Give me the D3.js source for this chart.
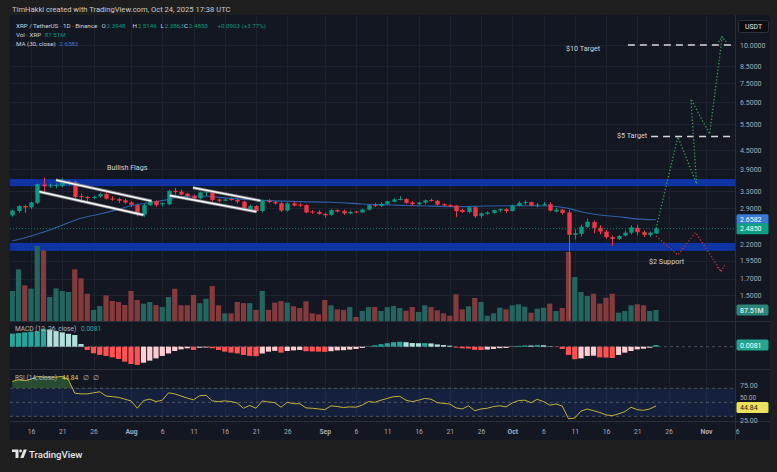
<!DOCTYPE html>
<html><head><meta charset="utf-8">
<script src="https://cdn.jsdelivr.net/npm/d3@7"></script>
<style>
html,body{margin:0;padding:0;background:#1e1e1e;}
svg{display:block;font-family:Roboto,"Noto Sans",sans-serif;}
</style></head><body>
<svg id="c" width="777" height="472"></svg>
<script>
// ---------------- DATA ----------------
const dates = [
"2025-07-13","2025-07-14","2025-07-15","2025-07-16","2025-07-17","2025-07-18","2025-07-19","2025-07-20","2025-07-21","2025-07-22","2025-07-23","2025-07-24","2025-07-25","2025-07-26","2025-07-27","2025-07-28","2025-07-29","2025-07-30","2025-07-31",
"2025-08-01","2025-08-02","2025-08-03","2025-08-04","2025-08-05","2025-08-06","2025-08-07","2025-08-08","2025-08-09","2025-08-10","2025-08-11","2025-08-12","2025-08-13","2025-08-14","2025-08-15","2025-08-16","2025-08-17","2025-08-18","2025-08-19","2025-08-20","2025-08-21","2025-08-22","2025-08-23","2025-08-24","2025-08-25","2025-08-26","2025-08-27","2025-08-28","2025-08-29","2025-08-30","2025-08-31",
"2025-09-01","2025-09-02","2025-09-03","2025-09-04","2025-09-05","2025-09-06","2025-09-07","2025-09-08","2025-09-09","2025-09-10","2025-09-11","2025-09-12","2025-09-13","2025-09-14","2025-09-15","2025-09-16","2025-09-17","2025-09-18","2025-09-19","2025-09-20","2025-09-21","2025-09-22","2025-09-23","2025-09-24","2025-09-25","2025-09-26","2025-09-27","2025-09-28","2025-09-29","2025-09-30",
"2025-10-01","2025-10-02","2025-10-03","2025-10-04","2025-10-05","2025-10-06","2025-10-07","2025-10-08","2025-10-09","2025-10-10","2025-10-11","2025-10-12","2025-10-13","2025-10-14","2025-10-15","2025-10-16","2025-10-17","2025-10-18","2025-10-19","2025-10-20","2025-10-21","2025-10-22","2025-10-23","2025-10-24"];

const open = [
2.75,2.84,2.95,2.92,3.02,3.47,3.43,3.45,3.43,3.50,3.53,3.18,3.16,3.14,3.17,3.23,3.12,3.11,3.08,
3.03,2.97,2.77,2.97,3.06,2.99,2.99,3.31,3.29,3.24,3.18,3.13,3.27,3.28,3.10,3.07,3.11,3.09,3.05,2.86,2.95,2.84,3.07,3.04,3.01,2.85,3.01,2.98,2.97,2.83,2.82,
2.78,2.76,2.86,2.84,2.79,2.83,2.81,2.87,2.97,2.95,3.00,3.05,3.10,3.11,3.03,2.99,3.03,3.09,3.07,2.99,2.97,2.96,2.86,2.82,2.92,2.74,2.78,2.80,2.86,2.88,
2.84,2.95,3.02,3.04,2.97,2.98,2.99,2.83,2.87,2.81,2.37,2.39,2.52,2.61,2.50,2.43,2.33,2.30,2.36,2.41,2.50,2.42,2.37,2.3948];
const high = [
2.87,2.97,2.98,3.05,3.50,3.66,3.50,3.50,3.64,3.58,3.57,3.24,3.18,3.19,3.26,3.31,3.18,3.14,3.12,
3.06,3.00,3.00,3.10,3.08,3.03,3.34,3.38,3.34,3.26,3.22,3.29,3.34,3.32,3.12,3.12,3.14,3.12,3.07,2.98,2.97,3.10,3.11,3.07,3.04,3.03,3.05,3.02,2.99,2.86,2.86,
2.80,2.88,2.88,2.87,2.85,2.84,2.89,2.99,3.02,3.03,3.07,3.13,3.18,3.13,3.06,3.05,3.10,3.12,3.09,3.01,2.99,2.97,2.89,2.95,2.93,2.81,2.83,2.87,2.90,2.90,
2.98,3.06,3.08,3.05,3.02,3.04,3.04,2.91,2.88,2.86,2.47,2.56,2.68,2.64,2.55,2.46,2.36,2.37,2.45,2.55,2.56,2.45,2.43,2.5146];
const low = [
2.72,2.80,2.80,2.89,2.99,3.28,3.39,3.37,3.40,3.44,3.12,3.02,3.04,3.11,3.14,3.10,3.07,3.02,3.00,
2.93,2.73,2.72,2.95,2.93,2.94,2.97,3.22,3.20,3.14,3.09,3.10,3.18,3.05,3.03,3.06,3.07,3.01,2.84,2.84,2.82,2.81,3.01,2.98,2.82,2.83,2.94,2.93,2.79,2.78,2.76,
2.70,2.74,2.81,2.76,2.77,2.79,2.80,2.85,2.93,2.93,2.98,3.03,3.08,3.00,2.96,2.97,2.99,3.05,2.96,2.95,2.93,2.71,2.80,2.79,2.70,2.69,2.76,2.78,2.82,2.80,
2.83,2.94,2.98,2.94,2.92,2.95,2.83,2.81,2.76,1.25,2.29,2.34,2.50,2.40,2.38,2.30,2.18,2.28,2.34,2.38,2.36,2.33,2.34,2.3863];
const close = [
2.85,2.95,2.92,3.03,3.48,3.43,3.45,3.46,3.53,3.54,3.16,3.16,3.13,3.16,3.23,3.12,3.10,3.07,3.03,
2.98,2.77,2.97,3.06,2.97,3.02,3.31,3.28,3.22,3.18,3.12,3.27,3.29,3.09,3.07,3.10,3.09,3.05,2.86,2.95,2.84,3.07,3.04,3.01,2.85,3.01,2.96,2.97,2.81,2.81,2.78,
2.75,2.86,2.83,2.79,2.82,2.81,2.87,2.97,2.95,3.00,3.06,3.10,3.11,3.02,2.99,3.03,3.08,3.07,2.98,2.96,2.95,2.84,2.82,2.92,2.73,2.79,2.81,2.86,2.88,2.84,
2.95,3.02,3.04,2.96,2.98,2.99,2.85,2.87,2.80,2.37,2.40,2.52,2.62,2.50,2.43,2.33,2.30,2.35,2.41,2.51,2.42,2.37,2.41,2.4850];
// volume, millions
const volume = [
239,411,284,257,597,562,191,260,239,231,411,340,217,88,119,204,159,151,127,
239,167,138,151,127,111,191,257,125,125,207,142,177,278,125,61,61,151,142,142,88,239,88,146,159,146,117,103,156,61,53,
167,125,93,88,111,32,80,111,111,80,111,119,103,82,111,72,125,111,85,61,42,212,93,117,183,151,42,61,106,93,
125,133,114,66,98,106,138,80,103,549,350,231,199,217,138,185,217,66,80,125,133,125,80,87.51];
// MACD histogram
const macdHist = [
0.064,0.066,0.070,0.073,0.076,0.088,0.084,0.076,0.070,0.063,0.057,0.013,-0.016,-0.032,-0.040,-0.045,-0.052,-0.060,-0.073,
-0.084,-0.089,-0.078,-0.068,-0.057,-0.045,-0.033,-0.021,-0.013,-0.008,-0.016,-0.005,-0.004,-0.008,-0.016,-0.024,-0.029,-0.033,-0.040,-0.045,-0.046,-0.033,-0.024,-0.020,-0.029,-0.021,-0.018,-0.016,-0.022,-0.023,-0.024,
-0.025,-0.022,-0.018,-0.017,-0.014,-0.011,-0.006,0.002,0.007,0.012,0.017,0.022,0.024,0.022,0.018,0.017,0.0175,0.016,0.011,0.008,0.005,-0.004,-0.008,-0.009,-0.015,-0.016,-0.014,-0.011,-0.007,-0.006,
-0.0015,0.004,0.006,0.0058,0.008,0.007,0.002,-0.0015,-0.011,-0.040,-0.061,-0.057,-0.045,-0.044,-0.052,-0.053,-0.055,-0.040,-0.029,-0.021,-0.013,-0.010,-0.005,0.0081];
// RSI(14)
const rsi = [
80,82,81,83,87,86,86,86,87,82,63,62,62,63.5,65,59,58,57,54.5,
52,41.5,52.5,54.5,51,53,63.5,62,59,56,53.5,59.5,60,52,51,52,51,49,41.5,45.5,41.5,52,50.5,49.5,43,50,48,48,42,41.5,40.5,
39.5,45,44,42.5,43.5,43,46,51,50,53,55.5,58,58.5,53,51,53,55.5,54.5,49.5,48.5,47.5,42,40.5,45,38,40.5,41.5,44,45,43.5,
49,52.5,53,49.5,54.3,51,46,47.6,44.7,26.5,27.5,37.5,40.4,38,35.5,32,30.9,33.5,36.6,42.9,39.5,38.5,40.5,44.84];
// MA(30) read at sample dates
const maDates = ["2025-07-13","2025-07-16","2025-07-19","2025-07-22","2025-07-24","2025-07-27","2025-07-30","2025-08-01","2025-08-04","2025-08-07","2025-08-09","2025-08-12","2025-08-17","2025-08-23","2025-08-28","2025-09-02","2025-09-07","2025-09-12","2025-09-17","2025-09-22","2025-09-27","2025-10-02","2025-10-07","2025-10-10","2025-10-12","2025-10-15","2025-10-18","2025-10-20","2025-10-24"];
const maValues = [2.263,2.351,2.460,2.599,2.688,2.777,2.877,2.957,3.025,3.104,3.171,3.183,3.126,3.072,3.049,3.036,2.996,2.973,2.951,2.935,2.951,2.957,2.951,2.899,2.825,2.756,2.720,2.688,2.6582];

const priceTicks = [10, 8.5, 7.5, 6.5, 5.5, 4.5, 3.9, 3.3, 2.9, 2.2, 1.95, 1.7, 1.5];
const macdTicks = [0.1, -0.1];
const rsiTicks = [75, 50, 25];
const tickDates = ["2025-07-16","2025-07-21","2025-07-26","2025-08-01","2025-08-06","2025-08-11","2025-08-16","2025-08-21","2025-08-26","2025-09-01","2025-09-06","2025-09-11","2025-09-16","2025-09-21","2025-09-26","2025-10-01","2025-10-06","2025-10-11","2025-10-16","2025-10-21","2025-10-26","2025-11-01","2025-11-06"];
const tickLabels = ["16","21","26","Aug","6","11","16","21","26","Sep","6","11","16","21","26","Oct","6","11","16","21","26","Nov","6"];

// zones (price ranges)
const zoneLow = [3.43, 2.10];
const zoneHigh = [3.62, 2.23];
// flag drawing lines
const flagStart = ["2025-07-20T00:00Z","2025-07-17T08:00Z","2025-08-10T22:00Z","2025-08-07T05:00Z"];
const flagStartP = [3.593, 3.288, 3.39, 3.195];
const flagEnd = ["2025-08-04T07:00Z","2025-08-03T00:00Z","2025-08-21T17:00Z","2025-08-21T02:00Z"];
const flagEndP = [3.064, 2.756, 3.072, 2.825];
// projection paths
const bullDates = ["2025-10-24T00:00Z","2025-10-27T12:00Z","2025-10-30T12:00Z","2025-10-29T14:00Z","2025-11-01T14:00Z","2025-11-03T14:00Z"];
const bullPrices = [2.485, 4.98, 3.49, 6.64, 5.09, 10.63];
const bearDates = ["2025-10-24T00:00Z","2025-10-27T12:00Z","2025-10-30T08:00Z","2025-11-03T10:00Z"];
const bearPrices = [2.35, 2.035, 2.414, 1.80];
const targetPrices = [10, 5];
const targetStart = ["2025-10-19T12:00Z","2025-10-23T05:00Z"];

// ---------------- LAYOUT ----------------
const svg = d3.select("#c");
const plotL = 10, plotR = 735, axR = 770;
const mainT = 15, mainB = 321, macdB = 369, rsiB = 421, axisB = 440;
const UP = "#089981", DN = "#f23645";
const TXT = "#a9acb5";

const parse = d3.utcParse("%Y-%m-%d");
const iso = d3.isoParse;
const x = d3.scaleUtc().domain([parse("2025-07-16"), parse("2025-11-06")]).range([31, 737.25]);
const y = d3.scaleLog().domain([1.2338, 12.554]).range([mainB, mainT]);
const yv = d3.scaleLinear().domain([0, 600]).range([mainB, mainB - 75.4]);
const ym = d3.scaleLinear().domain([-0.1, 0.1]).range([367.2, 326.2]);
const yr = d3.scaleLinear().domain([25, 75]).range([419.8, 384.8]);

const D = dates.map(parse);

// backgrounds
svg.append("rect").attr("width", 777).attr("height", 472).attr("fill", "#1e1e1e");
svg.append("rect").attr("x", plotL).attr("y", mainT).attr("width", axR - plotL).attr("height", axisB - mainT).attr("fill", "#131722");

const defs = svg.append("defs");
defs.append("clipPath").attr("id", "cm").append("rect").attr("x", plotL).attr("y", mainT).attr("width", plotR - plotL).attr("height", mainB - mainT);
defs.append("clipPath").attr("id", "cmacd").append("rect").attr("x", plotL).attr("y", mainB).attr("width", plotR - plotL).attr("height", macdB - mainB);
defs.append("clipPath").attr("id", "crsi").append("rect").attr("x", plotL).attr("y", macdB).attr("width", plotR - plotL).attr("height", rsiB - macdB);
defs.append("clipPath").attr("id", "cmacdAx").append("rect").attr("x", plotR).attr("y", mainB).attr("width", axR - plotR).attr("height", macdB - mainB);

// grid
const grid = svg.append("g").attr("stroke", "#1d2230").attr("stroke-width", 1);
tickDates.forEach(t => {
  const xx = Math.round(x(parse(t))) + 0.5;
  if (xx < plotR) grid.append("line").attr("x1", xx).attr("x2", xx).attr("y1", mainT).attr("y2", rsiB);
});
priceTicks.forEach(p => {
  const yy = Math.round(y(p)) + 0.5;
  grid.append("line").attr("x1", plotL).attr("x2", plotR).attr("y1", yy).attr("y2", yy);
});

// main pane
const gm = svg.append("g").attr("clip-path", "url(#cm)");
zoneLow.forEach((lo, i) => {
  gm.append("rect").attr("x", plotL).attr("width", plotR - plotL)
    .attr("y", y(zoneHigh[i])).attr("height", y(lo) - y(zoneHigh[i])).attr("fill", "#0f34a3");
});
gm.append("g").selectAll("rect").data(volume).join("rect")
  .attr("x", (v, i) => x(D[i]) - 2.6).attr("width", 5.2)
  .attr("y", v => yv(v)).attr("height", v => yv(0) - yv(v))
  .attr("fill", (v, i) => close[i] >= open[i] ? "#22665f" : "#853a3c");
gm.append("path").datum(maDates.map((d, i) => [parse(d), maValues[i]]))
  .attr("fill", "none").attr("stroke", "#2f5fa6").attr("stroke-width", 1.2)
  .attr("d", d3.line().x(d => x(d[0])).y(d => y(d[1])).curve(d3.curveMonotoneX));
const cg = gm.append("g");
D.forEach((d, i) => {
  const col = close[i] >= open[i] ? UP : DN;
  const cx = Math.round(x(d)) + 0.5;
  cg.append("line").attr("x1", cx).attr("x2", cx).attr("y1", y(high[i])).attr("y2", y(low[i])).attr("stroke", col).attr("stroke-width", 1);
  const t = y(Math.max(open[i], close[i])), b = y(Math.min(open[i], close[i]));
  cg.append("rect").attr("x", cx - 2.2).attr("width", 4.4).attr("y", t).attr("height", Math.max(1, b - t)).attr("fill", col);
});
const lastC = close[close.length - 1];
gm.append("line").attr("x1", plotL).attr("x2", plotR).attr("y1", y(lastC)).attr("y2", y(lastC))
  .attr("stroke", UP).attr("stroke-dasharray", "1,2").attr("stroke-width", 1).attr("opacity", 0.8);
flagStart.forEach((s, i) => {
  const seg = [[iso(s), flagStartP[i]], [iso(flagEnd[i]), flagEndP[i]]];
  const ln = d3.line().x(d => x(d[0])).y(d => y(d[1]));
  gm.append("path").attr("d", ln(seg)).attr("stroke", "#8d8f96").attr("stroke-width", 3).attr("fill", "none");
  gm.append("path").attr("d", ln(seg)).attr("stroke", "#ffffff").attr("stroke-width", 1.3).attr("fill", "none");
});
gm.append("text").attr("x", 107).attr("y", 169.5).attr("fill", "#d1d4dc").attr("font-size", 7.2).text("Bullish Flags");
targetPrices.forEach((p, i) => {
  gm.append("line").attr("x1", x(iso(targetStart[i]))).attr("x2", plotR).attr("y1", y(p)).attr("y2", y(p))
    .attr("stroke", "#d6d6d6").attr("stroke-width", 1.4).attr("stroke-dasharray", "7,5");
});
gm.append("text").attr("x", 566).attr("y", y(10) + 5.5).attr("fill", "#d1d4dc").attr("font-size", 7.2).text("$10 Target");
gm.append("text").attr("x", 617).attr("y", y(5) + 2).attr("fill", "#d1d4dc").attr("font-size", 7.2).text("$5 Target");
const pl = d3.line().x(d => x(d[0])).y(d => y(d[1]));
const bull = bullDates.map((d, i) => [iso(d), bullPrices[i]]);
const bear = bearDates.map((d, i) => [iso(d), bearPrices[i]]);
gm.append("path").attr("d", pl(bull)).attr("fill", "none").attr("stroke", "#3c9d55").attr("stroke-width", 1.3).attr("stroke-dasharray", "1.3,2");
gm.append("path").attr("d", pl(bear)).attr("fill", "none").attr("stroke", "#b8323d").attr("stroke-width", 1.3).attr("stroke-dasharray", "1.3,2");
const bt = bull[bull.length - 1], be = bear[bear.length - 1];
const btx = x(bt[0]), bty = y(bt[1]), bex = x(be[0]), bey = y(be[1]);
gm.append("path").attr("d", `M${btx - 3.5},${bty + 5}L${btx},${bty}L${btx + 4},${bty + 5}`).attr("fill", "none").attr("stroke", "#3c9d55").attr("stroke-width", 1.3).attr("stroke-dasharray", "1.3,1.5");
gm.append("path").attr("d", `M${bex - 4},${bey - 4}L${bex},${bey}L${bex + 3.5},${bey - 5.5}`).attr("fill", "none").attr("stroke", "#b8323d").attr("stroke-width", 1.3).attr("stroke-dasharray", "1.3,1.5");
gm.append("text").attr("x", 649).attr("y", 263.5).attr("fill", "#d1d4dc").attr("font-size", 7.2).text("$2 Support");

// MACD pane
const gmacd = svg.append("g").attr("clip-path", "url(#cmacd)");
gmacd.append("line").attr("x1", plotL).attr("x2", plotR).attr("y1", ym(0)).attr("y2", ym(0))
  .attr("stroke", "#4a4e5a").attr("stroke-dasharray", "3,3");
gmacd.selectAll("rect.h").data(macdHist).join("rect")
  .attr("x", (v, i) => x(D[i]) - 2.6).attr("width", 5.2)
  .attr("y", v => ym(Math.max(0, v))).attr("height", v => Math.abs(ym(v) - ym(0)))
  .attr("fill", (v, i) => {
    const p = i > 0 ? macdHist[i - 1] : v;
    if (v >= 0) return v >= p ? "#26a69a" : "#b2dfdb";
    return v < p ? "#ff5252" : "#ffcdd2";
  });

// RSI pane
const grsi = svg.append("g").attr("clip-path", "url(#crsi)");
grsi.append("rect").attr("x", plotL).attr("width", plotR - plotL).attr("y", yr(70)).attr("height", yr(30) - yr(70)).attr("fill", "rgba(41,98,255,0.12)");
[70, 50, 30].forEach(v => grsi.append("line").attr("x1", plotL).attr("x2", plotR).attr("y1", yr(v)).attr("y2", yr(v))
  .attr("stroke", "#50545f").attr("stroke-dasharray", "3,3"));
defs.append("clipPath").attr("id", "cob").append("rect").attr("x", plotL).attr("y", macdB).attr("width", plotR - plotL).attr("height", yr(70) - macdB);
grsi.append("path").datum(rsi).attr("clip-path", "url(#cob)")
  .attr("fill", "rgba(76,175,80,0.35)")
  .attr("d", d3.area().x((v, i) => x(D[i])).y0(yr(70)).y1(v => yr(v)));
grsi.append("path").datum(rsi).attr("fill", "none").attr("stroke", "#c4b13a").attr("stroke-width", 1)
  .attr("d", d3.line().x((v, i) => x(D[i])).y(v => yr(v)));

// separators
const sep = svg.append("g").attr("stroke", "#2a2e39");
[mainB, macdB, rsiB].forEach(yy => sep.append("line").attr("x1", plotL).attr("x2", axR).attr("y1", yy + 0.5).attr("y2", yy + 0.5));
sep.append("line").attr("x1", plotR + 0.5).attr("x2", plotR + 0.5).attr("y1", mainT).attr("y2", axisB);

// price axis
const ax = svg.append("g").attr("transform", `translate(${plotR},0)`);
ax.call(d3.axisRight(y).tickValues(priceTicks).tickFormat(d3.format(".4f")).tickSize(0).tickPadding(5));
ax.select(".domain").remove();
ax.selectAll("text").attr("fill", TXT).attr("font-size", 7).attr("font-family", "Roboto");
const axm = svg.append("g").attr("transform", `translate(${plotR},0)`).attr("clip-path", "url(#cmacdAx)");
axm.call(d3.axisRight(ym).tickValues(macdTicks).tickFormat(d => d3.format(".4f")(d).replace("-", "\u2212")).tickSize(0).tickPadding(5));
axm.select(".domain").remove();
axm.selectAll("text").attr("fill", TXT).attr("font-size", 7).attr("font-family", "Roboto");
const axr = svg.append("g").attr("transform", `translate(${plotR},0)`);
axr.call(d3.axisRight(yr).tickValues(rsiTicks).tickFormat(d3.format(".2f")).tickSize(0).tickPadding(5));
axr.select(".domain").remove();
axr.selectAll("text").attr("fill", TXT).attr("font-size", 7).attr("font-family", "Roboto");
// the 50.00 label peeks out just above the RSI value box, as in the reference
axr.selectAll(".tick").filter(d => d === 50).select("text").attr("font-size", 6.4).attr("dy", "-0.45em");

function box(yy, txt, fill, color) {
  svg.append("rect").attr("x", plotR + 1.5).attr("y", yy - 5.5).attr("width", 32).attr("height", 11).attr("rx", 1.5).attr("fill", fill);
  svg.append("text").attr("x", plotR + 5).attr("y", yy + 2.5).attr("fill", color).attr("font-size", 7).text(txt);
}
box(y(maValues[maValues.length - 1]), d3.format(".4f")(maValues[maValues.length - 1]), "#3a78d4", "#ffffff");
box(y(lastC), d3.format(".4f")(lastC), "#0e9e84", "#ffffff");
box(yv(volume[volume.length - 1]), d3.format(".2f")(volume[volume.length - 1]) + "M", "#2b8579", "#ffffff");
box(ym(macdHist[macdHist.length - 1]), d3.format(".4f")(macdHist[macdHist.length - 1]), "#22a58f", "#ffffff");
box(yr(rsi[rsi.length - 1]) + 1.5, d3.format(".2f")(rsi[rsi.length - 1]), "#ece25c", "#1a1a1a");
svg.append("rect").attr("x", 738.5).attr("y", 20.5).attr("width", 30).attr("height", 12).attr("rx", 2).attr("fill", "#0c0d10").attr("stroke", "#2e3140");
svg.append("text").attr("x", 753.5).attr("y", 29).attr("text-anchor", "middle").attr("fill", "#e8e8e8").attr("font-size", 6.8).text("USDT");

// date axis
const axb = svg.append("g").attr("transform", `translate(0,${rsiB})`);
axb.call(d3.axisBottom(x).tickValues(tickDates.map(parse)).tickFormat((d, i) => tickLabels[i]).tickSize(0).tickPadding(8));
axb.select(".domain").remove();
axb.selectAll("text").attr("fill", TXT).attr("font-size", 6.8).attr("font-family", "Roboto")
  .attr("font-weight", (d, i) => isNaN(+tickLabels[i]) ? 700 : 400);

// legends
const lg = svg.append("g").attr("font-size", 6.2);
const lastI = close.length - 1;
lg.append("text").attr("x", 16).attr("y", 27.5).attr("fill", "#d1d4dc").text("XRP / TetherUS \u00b7 1D \u00b7 Binance");
const ohlc = [["O", open[lastI], 101.5], ["H", high[lastI], 132.5], ["L", low[lastI], 160.5], ["C", close[lastI], 184]];
ohlc.forEach(o => {
  const t = lg.append("text").attr("x", o[2]).attr("y", 27.5);
  t.append("tspan").attr("fill", "#d1d4dc").text(o[0]);
  t.append("tspan").attr("fill", UP).attr("dx", 0.8).text(d3.format(".4f")(o[1]));
});
lg.append("text").attr("x", 217.5).attr("y", 27.5).attr("fill", UP).text("+0.0903 (+3.77%)");
const l2 = lg.append("text").attr("x", 16).attr("y", 36.5);
l2.append("tspan").attr("fill", "#d1d4dc").text("Vol \u00b7 XRP ");
l2.append("tspan").attr("fill", UP).attr("dx", 2).text(d3.format(".2f")(volume[lastI]) + "M");
const l3 = lg.append("text").attr("x", 16).attr("y", 45.5);
l3.append("tspan").attr("fill", "#d1d4dc").text("MA (30, close) ");
l3.append("tspan").attr("fill", "#3b7ddd").attr("dx", 2).text(d3.format(".4f")(maValues[maValues.length - 1]));
const l4 = lg.append("text").attr("x", 15).attr("y", 330.5).attr("font-size", 6.6);
l4.append("tspan").attr("fill", "#b2b5be").text("MACD (12, 26, close) ");
l4.append("tspan").attr("fill", "#26a69a").attr("dx", 3).text(d3.format(".4f")(macdHist[lastI]));
const l5 = lg.append("text").attr("x", 15).attr("y", 379.5).attr("font-size", 6.6);
l5.append("tspan").attr("fill", "#b2b5be").text("RSI (14, close) ");
l5.append("tspan").attr("fill", "#e2cf45").attr("dx", 3).text(d3.format(".2f")(rsi[lastI]));
l5.append("tspan").attr("fill", "#b2b5be").attr("dx", 5).text("\u2205");
l5.append("tspan").attr("fill", "#b2b5be").attr("dx", 4).text("\u2205");

// header & footer
svg.append("text").attr("x", 12).attr("y", 11.5).attr("fill", "#c8c9cc").attr("font-size", 7.6)
  .text("TimHakki created with TradingView.com, Oct 24, 2025 17:38 UTC");
const logo = svg.append("g").attr("fill", "#e6e6e6");
logo.append("path").attr("d", "M12,449.5h6.5v8.5h-3v-6h-3.5z");
logo.append("circle").attr("cx", 20.6).attr("cy", 451).attr("r", 1.4);
logo.append("path").attr("d", "M20.3,458l3.4,-8.5h3.2l-3.4,8.5z");
svg.append("text").attr("x", 29).attr("y", 457.5).attr("fill", "#e6e6e6").attr("font-size", 9.6).attr("font-weight", 500).text("TradingView");
</script>
</body></html>
